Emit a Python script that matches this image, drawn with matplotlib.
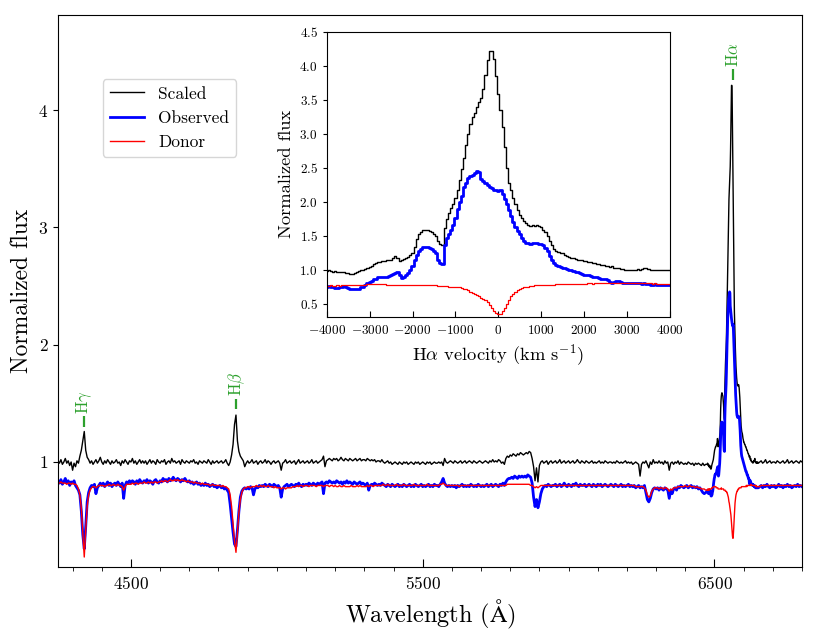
import numpy as np
import matplotlib
matplotlib.use("Agg")
import matplotlib.pyplot as plt
from matplotlib.ticker import MultipleLocator, FormatStrFormatter

plt.rcParams['font.family'] = 'serif'
plt.rcParams['font.serif'] = ['cmr10']
plt.rcParams['mathtext.fontset'] = 'cm'
plt.rcParams['axes.formatter.use_mathtext'] = True

# ---------------- data ----------------
# main spectrum, 4250-6470 A, 5 A sampling
scaled_lo = [
    1.01, 0.99, 1.02, 0.98, 1.00, 1.03, 0.99, 1.01, 0.97, 1.00,
    0.93, 0.99, 0.96, 1.01, 0.99, 1.05, 1.10, 1.18, 1.26, 1.10,
    1.04, 1.02, 0.99, 1.01, 0.98, 1.00, 1.02, 0.99, 1.01, 1.04,
    1.00, 0.98, 1.01, 0.99, 1.02, 1.00, 0.98, 1.01, 0.99, 1.00,
    1.02, 0.99, 1.00, 0.97, 1.01, 0.99, 1.02, 1.00, 0.98, 1.01,
    1.00, 1.03, 0.99, 1.01, 0.98, 1.00, 1.02, 0.99, 1.01, 0.99,
    1.01, 0.98, 1.00, 1.02, 0.99, 1.01, 1.00, 0.98, 1.02, 1.00,
    0.99, 1.01, 1.00, 1.02, 0.98, 1.00, 1.01, 0.99, 1.03, 1.00,
    1.01, 0.99, 1.00, 1.01, 0.98, 1.02, 1.00, 0.99, 1.01, 1.00,
    0.99, 1.01, 1.00, 1.02, 0.99, 1.00, 0.98, 1.01, 1.00, 0.99,
    1.01, 1.00, 0.99, 1.02, 1.00, 0.98, 1.01, 0.99, 1.00, 1.01,
    0.99, 1.00, 1.01, 0.99, 1.00, 1.02, 0.99, 0.97, 1.00, 1.06,
    1.15, 1.32, 1.40, 1.18, 1.09, 1.05, 1.03, 1.01, 0.96, 0.99,
    1.01, 0.99, 1.00, 1.02, 0.99, 1.00, 1.01, 0.98, 1.00, 1.01,
    0.99, 1.00, 1.02, 0.99, 1.01, 1.00, 0.98, 1.00, 1.01, 0.99,
    1.00, 1.01, 0.99, 0.93, 0.99, 1.00, 1.02, 0.99, 1.00, 1.01,
    0.99, 1.00, 1.01, 0.98, 1.00, 1.02, 0.99, 1.00, 1.01, 0.99,
    1.00, 1.01, 0.99, 1.00, 1.02, 0.99, 1.00, 1.01, 0.99, 1.00,
    1.01, 1.02, 1.05, 0.96, 1.01, 1.02, 1.03, 1.02, 1.01, 1.03,
    1.02, 1.03, 1.01, 1.02, 1.04, 1.02, 1.01, 1.03, 1.02, 1.01,
    1.03, 1.02, 1.01, 1.02, 1.03, 1.01, 1.02, 1.03, 1.01, 1.02,
    1.02, 1.01, 1.03, 1.02, 1.01, 1.02, 1.01, 1.02, 1.00, 1.01,
    1.01, 1.00, 1.02, 1.00, 0.99, 1.00, 1.01, 0.99, 1.00, 0.98,
    0.99, 1.00, 0.99, 0.98, 1.00, 0.99, 0.98, 1.00, 0.99, 1.00,
    0.98, 0.99, 1.00, 0.99, 0.98, 1.00, 0.99, 1.00, 0.98, 0.99,
    1.00, 0.99, 0.98, 1.00, 0.99, 1.00, 0.98, 0.99, 1.00, 0.99,
    0.99, 1.00, 0.99, 1.00, 0.97, 1.03, 1.00, 0.99, 1.00, 1.01,
    1.00, 0.99, 1.01, 1.00, 0.99, 1.00, 1.01, 0.99, 1.00, 1.01,
    0.99, 1.00, 1.01, 1.00, 0.99, 1.01, 1.00, 0.99, 1.00, 1.01,
    1.00, 0.99, 1.00, 1.01, 1.00, 0.99, 1.01, 1.00, 1.02, 1.00,
    1.01, 1.00, 1.02, 1.01, 0.99, 1.00, 0.98, 1.03, 1.05, 1.04,
    1.06, 1.05, 1.07, 1.06, 1.05, 1.07, 1.06, 1.08, 1.07, 1.06,
    1.07, 1.08, 1.07, 1.09, 1.08, 1.03, 0.96, 0.84, 0.95, 0.83,
    0.97, 1.00, 1.01, 0.99, 1.00, 1.01, 0.98, 1.00, 1.01, 0.99,
    1.00, 1.01, 0.99, 1.00, 1.02, 0.99, 1.00, 1.01, 0.99, 1.00,
    1.01, 0.99, 1.00, 1.01, 0.99, 1.00, 1.02, 1.00, 0.99, 1.01,
    1.00, 0.99, 1.01, 1.00, 0.99, 1.00, 1.01, 0.99, 1.00, 0.99,
    1.00, 1.01, 0.99, 1.00, 0.99, 1.01, 1.00, 0.99, 1.00, 1.00,
    0.99, 1.00, 0.99, 1.01, 1.00, 0.99, 1.00, 0.99, 1.00, 1.01,
    0.99, 1.00, 0.99, 1.00, 0.98, 0.99, 1.00, 0.99, 0.98, 0.88,
    0.98, 1.00, 0.99, 1.01, 0.98, 0.95, 1.00, 0.98, 1.02, 0.99,
    1.00, 0.99, 1.01, 0.99, 1.00, 0.98, 1.01, 0.99, 1.00, 0.93,
    0.99, 1.00, 0.98, 1.00, 0.99, 1.01, 0.98, 1.00, 0.99, 0.98,
    0.99, 0.98, 1.00, 0.99, 0.98, 0.99, 0.97, 0.99, 0.98, 0.99,
    0.98, 0.97, 0.99, 0.97, 0.98,
]
observed_lo = [
    0.84, 0.82, 0.85, 0.81, 0.83, 0.86, 0.82, 0.84, 0.80, 0.83,
    0.82, 0.84, 0.80, 0.78, 0.76, 0.72, 0.58, 0.38, 0.26, 0.45,
    0.66, 0.74, 0.78, 0.80, 0.79, 0.81, 0.73, 0.78, 0.80, 0.82,
    0.80, 0.82, 0.79, 0.81, 0.83, 0.80, 0.82, 0.79, 0.81, 0.82,
    0.80, 0.83, 0.81, 0.79, 0.82, 0.69, 0.80, 0.83, 0.82, 0.84,
    0.82, 0.84, 0.83, 0.81, 0.84, 0.82, 0.85, 0.83, 0.82, 0.84,
    0.83, 0.85, 0.82, 0.84, 0.83, 0.81, 0.84, 0.85, 0.83, 0.82,
    0.84, 0.83, 0.86, 0.84, 0.85, 0.83, 0.86, 0.84, 0.85, 0.87,
    0.85, 0.84, 0.86, 0.85, 0.83, 0.85, 0.84, 0.86, 0.84, 0.83,
    0.84, 0.82, 0.83, 0.81, 0.82, 0.83, 0.81, 0.82, 0.80, 0.81,
    0.80, 0.82, 0.80, 0.81, 0.79, 0.80, 0.81, 0.79, 0.80, 0.78,
    0.79, 0.80, 0.78, 0.79, 0.77, 0.78, 0.76, 0.74, 0.64, 0.52,
    0.40, 0.30, 0.28, 0.42, 0.58, 0.70, 0.75, 0.77, 0.78, 0.77,
    0.78, 0.77, 0.79, 0.78, 0.72, 0.77, 0.79, 0.78, 0.80, 0.79,
    0.80, 0.79, 0.81, 0.80, 0.79, 0.81, 0.80, 0.79, 0.81, 0.80,
    0.79, 0.80, 0.78, 0.70, 0.77, 0.79, 0.80, 0.81, 0.79, 0.80,
    0.81, 0.80, 0.79, 0.81, 0.80, 0.82, 0.80, 0.79, 0.81, 0.80,
    0.81, 0.80, 0.82, 0.81, 0.80, 0.82, 0.81, 0.80, 0.82, 0.81,
    0.82, 0.83, 0.73, 0.82, 0.83, 0.82, 0.84, 0.83, 0.82, 0.83,
    0.82, 0.84, 0.83, 0.82, 0.83, 0.81, 0.83, 0.82, 0.84, 0.82,
    0.83, 0.82, 0.81, 0.83, 0.82, 0.81, 0.82, 0.83, 0.81, 0.82,
    0.81, 0.80, 0.82, 0.76, 0.80, 0.81, 0.80, 0.82, 0.81, 0.80,
    0.81, 0.80, 0.82, 0.81, 0.80, 0.79, 0.81, 0.80, 0.79, 0.81,
    0.80, 0.79, 0.80, 0.81, 0.79, 0.80, 0.79, 0.81, 0.80, 0.79,
    0.80, 0.81, 0.79, 0.80, 0.79, 0.81, 0.80, 0.79, 0.80, 0.81,
    0.79, 0.80, 0.79, 0.80, 0.81, 0.79, 0.80, 0.79, 0.81, 0.80,
    0.80, 0.79, 0.81, 0.83, 0.86, 0.82, 0.80, 0.79, 0.80, 0.79,
    0.80, 0.79, 0.80, 0.78, 0.80, 0.79, 0.80, 0.81, 0.79, 0.80,
    0.79, 0.80, 0.79, 0.81, 0.80, 0.79, 0.80, 0.79, 0.81, 0.80,
    0.79, 0.80, 0.79, 0.80, 0.81, 0.79, 0.80, 0.81, 0.79, 0.80,
    0.81, 0.80, 0.79, 0.81, 0.80, 0.82, 0.80, 0.83, 0.85, 0.86,
    0.86, 0.87, 0.86, 0.88, 0.87, 0.86, 0.88, 0.87, 0.88, 0.87,
    0.88, 0.87, 0.89, 0.88, 0.87, 0.82, 0.70, 0.62, 0.68, 0.61,
    0.66, 0.73, 0.77, 0.79, 0.80, 0.79, 0.81, 0.80, 0.79, 0.80,
    0.80, 0.81, 0.79, 0.80, 0.81, 0.79, 0.80, 0.82, 0.80, 0.79,
    0.81, 0.80, 0.79, 0.81, 0.80, 0.82, 0.80, 0.79, 0.81, 0.80,
    0.80, 0.81, 0.79, 0.80, 0.81, 0.80, 0.79, 0.81, 0.80, 0.79,
    0.81, 0.80, 0.81, 0.79, 0.80, 0.81, 0.80, 0.79, 0.80, 0.81,
    0.80, 0.79, 0.81, 0.80, 0.79, 0.80, 0.81, 0.79, 0.80, 0.79,
    0.80, 0.81, 0.79, 0.80, 0.79, 0.80, 0.78, 0.79, 0.80, 0.78,
    0.79, 0.78, 0.80, 0.74, 0.68, 0.66, 0.69, 0.74, 0.77, 0.78,
    0.77, 0.78, 0.76, 0.78, 0.77, 0.76, 0.78, 0.77, 0.76, 0.69,
    0.76, 0.73, 0.77, 0.78, 0.76, 0.79, 0.78, 0.80, 0.79, 0.78,
    0.79, 0.80, 0.78, 0.79, 0.80, 0.78, 0.79, 0.78, 0.79, 0.77,
    0.78, 0.76, 0.74, 0.73, 0.74,
]
donor_lo = [
    0.82, 0.82, 0.83, 0.82, 0.82, 0.82, 0.81, 0.82, 0.82, 0.81,
    0.82, 0.81, 0.81, 0.80, 0.77, 0.72, 0.60, 0.40, 0.19, 0.42,
    0.62, 0.72, 0.76, 0.78, 0.79, 0.79, 0.78, 0.79, 0.80, 0.80,
    0.80, 0.80, 0.79, 0.80, 0.80, 0.81, 0.80, 0.80, 0.81, 0.80,
    0.80, 0.81, 0.80, 0.80, 0.79, 0.76, 0.79, 0.81, 0.81, 0.81,
    0.81, 0.82, 0.81, 0.82, 0.82, 0.81, 0.82, 0.82, 0.82, 0.83,
    0.82, 0.82, 0.83, 0.82, 0.83, 0.82, 0.83, 0.83, 0.82, 0.83,
    0.83, 0.84, 0.83, 0.84, 0.84, 0.83, 0.84, 0.85, 0.84, 0.84,
    0.85, 0.84, 0.85, 0.84, 0.84, 0.85, 0.84, 0.84, 0.83, 0.84,
    0.83, 0.83, 0.83, 0.82, 0.83, 0.82, 0.82, 0.82, 0.81, 0.82,
    0.81, 0.81, 0.81, 0.81, 0.80, 0.80, 0.81, 0.80, 0.80, 0.80,
    0.80, 0.80, 0.79, 0.80, 0.79, 0.79, 0.78, 0.77, 0.72, 0.62,
    0.48, 0.33, 0.23, 0.40, 0.57, 0.68, 0.74, 0.77, 0.78, 0.78,
    0.79, 0.79, 0.78, 0.79, 0.79, 0.79, 0.80, 0.79, 0.79, 0.80,
    0.79, 0.80, 0.79, 0.79, 0.80, 0.79, 0.79, 0.79, 0.78, 0.79,
    0.78, 0.78, 0.78, 0.77, 0.78, 0.78, 0.77, 0.78, 0.78, 0.78,
    0.78, 0.79, 0.79, 0.79, 0.80, 0.79, 0.80, 0.80, 0.79, 0.80,
    0.80, 0.80, 0.79, 0.80, 0.80, 0.80, 0.80, 0.79, 0.80, 0.80,
    0.80, 0.80, 0.79, 0.80, 0.80, 0.80, 0.79, 0.80, 0.80, 0.79,
    0.80, 0.79, 0.79, 0.80, 0.79, 0.79, 0.80, 0.79, 0.79, 0.79,
    0.79, 0.80, 0.79, 0.79, 0.79, 0.80, 0.79, 0.80, 0.79, 0.79,
    0.79, 0.79, 0.80, 0.79, 0.80, 0.80, 0.79, 0.80, 0.80, 0.80,
    0.80, 0.80, 0.80, 0.81, 0.80, 0.80, 0.81, 0.80, 0.80, 0.80,
    0.80, 0.80, 0.81, 0.80, 0.80, 0.80, 0.80, 0.81, 0.80, 0.80,
    0.80, 0.80, 0.80, 0.80, 0.81, 0.80, 0.80, 0.80, 0.80, 0.80,
    0.80, 0.80, 0.80, 0.81, 0.80, 0.80, 0.80, 0.80, 0.80, 0.80,
    0.80, 0.80, 0.81, 0.81, 0.82, 0.81, 0.80, 0.80, 0.80, 0.80,
    0.80, 0.80, 0.80, 0.80, 0.80, 0.79, 0.80, 0.80, 0.80, 0.80,
    0.80, 0.80, 0.80, 0.80, 0.80, 0.80, 0.80, 0.80, 0.80, 0.80,
    0.80, 0.80, 0.80, 0.80, 0.80, 0.80, 0.80, 0.80, 0.80, 0.80,
    0.80, 0.80, 0.80, 0.80, 0.80, 0.80, 0.80, 0.80, 0.81, 0.81,
    0.81, 0.81, 0.81, 0.81, 0.81, 0.81, 0.81, 0.81, 0.81, 0.81,
    0.81, 0.81, 0.81, 0.81, 0.80, 0.80, 0.79, 0.78, 0.79, 0.78,
    0.79, 0.80, 0.80, 0.80, 0.80, 0.80, 0.80, 0.80, 0.80, 0.80,
    0.80, 0.80, 0.80, 0.80, 0.80, 0.80, 0.80, 0.80, 0.80, 0.80,
    0.80, 0.80, 0.80, 0.80, 0.80, 0.80, 0.80, 0.80, 0.80, 0.80,
    0.80, 0.80, 0.80, 0.80, 0.80, 0.80, 0.80, 0.80, 0.80, 0.80,
    0.80, 0.80, 0.80, 0.80, 0.80, 0.80, 0.80, 0.80, 0.80, 0.80,
    0.80, 0.80, 0.80, 0.80, 0.80, 0.80, 0.80, 0.80, 0.80, 0.80,
    0.80, 0.80, 0.80, 0.80, 0.80, 0.80, 0.79, 0.79, 0.79, 0.79,
    0.79, 0.79, 0.78, 0.76, 0.72, 0.70, 0.71, 0.75, 0.77, 0.78,
    0.78, 0.78, 0.77, 0.78, 0.78, 0.77, 0.78, 0.78, 0.77, 0.75,
    0.77, 0.76, 0.78, 0.78, 0.78, 0.79, 0.79, 0.79, 0.79, 0.79,
    0.80, 0.79, 0.79, 0.80, 0.79, 0.79, 0.79, 0.78, 0.79, 0.78,
    0.78, 0.77, 0.77, 0.77, 0.76,
]

# main spectrum, 6655-6800 A, 5 A sampling
scaled_hi = [
    1.00, 1.01, 0.99, 1.00, 1.02, 0.99, 1.00, 1.01, 0.99, 1.00,
    1.00, 0.99, 1.01, 1.00, 0.99, 1.00, 1.01, 0.99, 1.00, 1.02,
    0.99, 1.00, 1.01, 0.99, 1.00, 1.01, 1.00, 0.99, 1.01, 1.00,
]
observed_hi = [
    0.79, 0.80, 0.78, 0.80, 0.79, 0.81, 0.79, 0.78, 0.80, 0.79,
    0.80, 0.78, 0.79, 0.81, 0.79, 0.80, 0.78, 0.80, 0.79, 0.81,
    0.79, 0.80, 0.78, 0.79, 0.80, 0.79, 0.81, 0.79, 0.80, 0.79,
]
donor_hi = [
    0.79, 0.80, 0.80, 0.80, 0.80, 0.80, 0.80, 0.80, 0.80, 0.80,
    0.80, 0.80, 0.80, 0.80, 0.80, 0.80, 0.80, 0.80, 0.80, 0.80,
    0.80, 0.80, 0.80, 0.80, 0.80, 0.80, 0.80, 0.80, 0.80, 0.80,
]

# H-alpha region, velocity bins of 50 km/s from -4000 to 4000
scaled_ha = [
    0.98, 0.99, 0.98, 0.97, 0.98, 0.96, 0.97, 0.96, 0.97, 0.95,
    0.95, 0.94, 0.94, 0.95, 0.97, 0.98, 0.99, 1.00, 1.01, 1.02,
    1.04, 1.06, 1.08, 1.10, 1.11, 1.12, 1.13, 1.13, 1.14, 1.15,
    1.15, 1.17, 1.20, 1.18, 1.13, 1.14, 1.16, 1.17, 1.19, 1.22,
    1.25, 1.33, 1.45, 1.52, 1.56, 1.58, 1.59, 1.58, 1.57, 1.56,
    1.53, 1.49, 1.43, 1.38, 1.36, 1.62, 1.74, 1.83, 1.91, 1.96,
    2.05, 2.18, 2.32, 2.48, 2.64, 2.84, 3.00, 3.14, 3.24, 3.31,
    3.40, 3.46, 3.52, 3.66, 3.86, 4.08, 4.21, 4.21, 4.10, 3.85,
    3.58, 3.35, 3.10, 2.80, 2.50, 2.28, 2.17, 2.06, 1.97, 1.88,
    1.81, 1.76, 1.72, 1.69, 1.66, 1.65, 1.66, 1.65, 1.66, 1.65,
    1.63, 1.59, 1.55, 1.49, 1.43, 1.36, 1.31, 1.28, 1.26, 1.25,
    1.24, 1.22, 1.20, 1.19, 1.17, 1.17, 1.16, 1.15, 1.15, 1.14,
    1.13, 1.13, 1.12, 1.11, 1.10, 1.10, 1.09, 1.08, 1.07, 1.07,
    1.06, 1.05, 1.04, 1.05, 1.03, 1.02, 1.03, 1.01, 1.01, 1.00,
    1.00, 1.00, 1.00, 0.99, 1.00, 1.01, 1.00, 1.01, 1.02, 1.03,
    1.01, 1.00, 1.00, 0.99, 1.00, 1.00, 0.99, 0.99, 1.00, 0.99,
    0.99,
]
observed_ha = [
    0.75, 0.76, 0.74, 0.75, 0.73, 0.73, 0.74, 0.75, 0.76, 0.75,
    0.73, 0.72, 0.71, 0.71, 0.72, 0.72, 0.74, 0.75, 0.77, 0.80,
    0.82, 0.84, 0.86, 0.87, 0.89, 0.89, 0.90, 0.90, 0.90, 0.91,
    0.93, 0.94, 0.95, 0.96, 0.93, 0.88, 0.89, 0.92, 0.95, 0.99,
    1.05, 1.14, 1.22, 1.28, 1.31, 1.34, 1.34, 1.33, 1.32, 1.31,
    1.28, 1.24, 1.15, 1.10, 1.09, 1.37, 1.47, 1.53, 1.59, 1.66,
    1.76, 1.90, 2.00, 2.09, 2.22, 2.28, 2.35, 2.38, 2.40, 2.42,
    2.45, 2.44, 2.33, 2.30, 2.27, 2.25, 2.22, 2.20, 2.18, 2.17,
    2.16, 2.17, 2.12, 2.04, 1.96, 1.88, 1.79, 1.70, 1.63, 1.57,
    1.52, 1.47, 1.43, 1.40, 1.39, 1.38, 1.39, 1.39, 1.39, 1.38,
    1.38, 1.36, 1.32, 1.27, 1.20, 1.14, 1.10, 1.07, 1.05, 1.04,
    1.03, 1.02, 1.01, 1.00, 0.99, 0.98, 0.97, 0.96, 0.95, 0.94,
    0.93, 0.92, 0.92, 0.91, 0.90, 0.89, 0.89, 0.88, 0.87, 0.86,
    0.86, 0.85, 0.82, 0.81, 0.82, 0.84, 0.83, 0.82, 0.81, 0.81,
    0.81, 0.81, 0.80, 0.81, 0.80, 0.80, 0.80, 0.79, 0.80, 0.79,
    0.79, 0.78, 0.78, 0.79, 0.78, 0.78, 0.78, 0.78, 0.78, 0.78,
    0.78,
]
donor_ha = [
    0.76, 0.76, 0.77, 0.76, 0.76, 0.77, 0.76, 0.77, 0.77, 0.77,
    0.77, 0.77, 0.77, 0.77, 0.78, 0.78, 0.78, 0.78, 0.78, 0.79,
    0.79, 0.79, 0.79, 0.79, 0.79, 0.79, 0.79, 0.79, 0.78, 0.78,
    0.78, 0.78, 0.78, 0.78, 0.77, 0.77, 0.77, 0.77, 0.77, 0.77,
    0.77, 0.77, 0.77, 0.77, 0.78, 0.77, 0.77, 0.77, 0.77, 0.77,
    0.77, 0.77, 0.76, 0.76, 0.76, 0.76, 0.76, 0.75, 0.75, 0.75,
    0.75, 0.74, 0.74, 0.73, 0.72, 0.71, 0.70, 0.68, 0.66, 0.65,
    0.63, 0.61, 0.59, 0.57, 0.55, 0.52, 0.48, 0.44, 0.40, 0.37,
    0.35, 0.35, 0.39, 0.44, 0.49, 0.55, 0.61, 0.65, 0.68, 0.70,
    0.72, 0.73, 0.74, 0.75, 0.75, 0.76, 0.76, 0.77, 0.77, 0.77,
    0.78, 0.78, 0.78, 0.78, 0.78, 0.78, 0.78, 0.79, 0.79, 0.79,
    0.79, 0.79, 0.79, 0.79, 0.79, 0.79, 0.79, 0.79, 0.79, 0.79,
    0.79, 0.79, 0.80, 0.80, 0.79, 0.80, 0.80, 0.80, 0.80, 0.80,
    0.80, 0.80, 0.80, 0.80, 0.80, 0.80, 0.80, 0.81, 0.80, 0.80,
    0.80, 0.80, 0.80, 0.80, 0.80, 0.80, 0.80, 0.80, 0.80, 0.80,
    0.80, 0.80, 0.79, 0.80, 0.79, 0.79, 0.79, 0.79, 0.79, 0.79,
    0.79,
]

line_names = [r'H$\gamma$', r'H$\beta$', r'H$\alpha$']
line_wl = [4340.5, 4861.3, 6562.8]
line_mark_y = [1.30, 1.45, 4.26]   # bottom of the short green marker
mark_len = 0.09
label_gap = 0.02

# ---------------- assemble ----------------
n_lo = min(len(scaled_lo), len(observed_lo), len(donor_lo))
n_hi = min(len(scaled_hi), len(observed_hi), len(donor_hi))
n_ha = min(len(scaled_ha), len(observed_ha), len(donor_ha))
wl_lo = 4250.0 + 5.0 * np.arange(n_lo)
wl_hi = 6655.0 + 5.0 * np.arange(n_hi)
vel = -4000.0 + 50.0 * np.arange(n_ha)
c_kms = 299792.458
wl_ha = 6562.8 * (1.0 + vel / c_kms)

wl = np.concatenate([wl_lo, wl_ha, wl_hi])
scaled = np.concatenate([scaled_lo[:n_lo], scaled_ha[:n_ha], scaled_hi[:n_hi]])
observed = np.concatenate([observed_lo[:n_lo], observed_ha[:n_ha], observed_hi[:n_hi]])
donor = np.concatenate([donor_lo[:n_lo], donor_ha[:n_ha], donor_hi[:n_hi]])

# ---------------- figure ----------------
W, H = 817, 636
fig = plt.figure(figsize=(W / 100, H / 100), dpi=100)
ax = fig.add_axes([58 / W, 1 - 567 / H, (802 - 58) / W, (567 - 15) / H])

ax.plot(wl, scaled, color='black', lw=1.0, label='Scaled')
ax.plot(wl, observed, color='blue', lw=2.0, label='Observed')
ax.plot(wl, donor, color='red', lw=1.0, label='Donor')

ax.set_xlim(4250, 6800)
ax.set_ylim(0.105, 4.81)
ax.set_xticks([4500, 5500, 6500])
ax.xaxis.set_minor_locator(MultipleLocator(100))
ax.set_yticks([1, 2, 3, 4])
ax.tick_params(axis='x', which='major', direction='in', length=6, labelsize=12.5, pad=6)
ax.tick_params(axis='x', which='minor', direction='out', length=3)
ax.tick_params(axis='y', which='major', direction='out', length=3.5, labelsize=12.5)
ax.set_xlabel(r'Wavelength ($\mathrm{\AA}$)', fontsize=17.5)
ax.set_ylabel('Normalized flux', fontsize=17)

green = '#2ca02c'
for name, lwl, my in zip(line_names, line_wl, line_mark_y):
    ax.plot([lwl, lwl], [my, my + mark_len], color=green, lw=1.6,
            solid_capstyle='butt')
    ax.text(lwl, my + mark_len + label_gap, name, rotation=90, ha='center',
            va='bottom', color=green, fontsize=12)

leg = ax.legend(loc='upper left', bbox_to_anchor=(102.7 / W, 1 - 79.3 / H),
                bbox_transform=fig.transFigure, borderaxespad=0, fontsize=12.5)

# ---------------- inset ----------------
axi = fig.add_axes([326.7 / W, 1 - 316.7 / H, (670 - 326.7) / W, (316.7 - 31.7) / H])
axi.plot(vel, scaled_ha[:n_ha], color='black', lw=1.0, drawstyle='steps-mid')
axi.plot(vel, observed_ha[:n_ha], color='blue', lw=2.0, drawstyle='steps-mid')
axi.plot(vel, donor_ha[:n_ha], color='red', lw=0.9, drawstyle='steps-mid')
axi.set_xlim(-4000, 4000)
axi.set_ylim(0.31, 4.5)
axi.xaxis.set_major_locator(MultipleLocator(1000))
axi.yaxis.set_major_locator(MultipleLocator(0.5))
axi.yaxis.set_major_formatter(FormatStrFormatter(r'$%.1f$'))
axi.tick_params(axis='x', direction='in', length=4.5, labelsize=9.5, pad=5)
axi.tick_params(axis='y', direction='out', length=3, labelsize=9.5)
axi.set_xlabel(r'H$\alpha$ velocity (km s$^{-1}$)', fontsize=13.3)
axi.set_ylabel('Normalized flux', fontsize=13.3)

fig.savefig('out.png', dpi=100)
